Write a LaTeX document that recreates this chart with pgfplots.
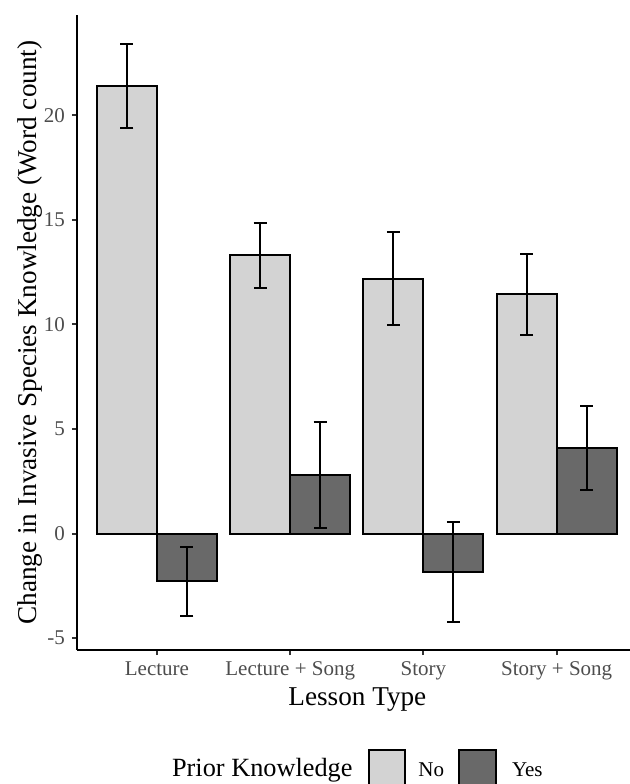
\documentclass[border=0pt]{standalone}
\usepackage{fontspec}
\setmainfont{Liberation Serif}
\usepackage{pgfplots}
\usepackage{pgfplotstable}
\pgfplotsset{compat=1.18}
\definecolor{barNo}{HTML}{D3D3D3}
\definecolor{barYes}{HTML}{696969}
\definecolor{tickgray}{HTML}{4D4D4D}
\definecolor{tickmark}{HTML}{333333}
\pgfplotstableread{
x y e
1 21.41 2.00
2 13.31 1.55
3 12.19 2.22
4 11.45 1.94
}\dataNo
\pgfplotstableread{
x y e
1 -2.27 1.65
2 2.80 2.54
3 -1.83 2.38
4 4.09 2.00
}\dataYes
\begin{document}
\begin{tikzpicture}
\useasboundingbox (0,0) rectangle (315pt,392pt);
\begin{axis}[
  at={(38.5pt,67pt)}, anchor=south west,
  scale only axis, width=276.5pt, height=317.5pt,
  xmin=0.4, xmax=4.55, ymin=-5.57, ymax=24.8,
  axis x line*=bottom, axis y line*=left,
  axis line style={line width=1pt, black, -},
  xtick={1,2,3,4},
  xticklabels={Lecture, Lecture + Song, Story, Story + Song},
  ytick={-5,0,5,10,15,20},
  yticklabels={-5,0,5,10,15,20},
  tick align=outside, major tick length=2.5pt,
  tick style={line width=1pt, color=tickmark},
  xticklabel style={font=\fontsize{10.5}{12}\selectfont, text=tickgray},
  yticklabel style={font=\fontsize{10.5}{12}\selectfont, text=tickgray},
  xlabel={Lesson Type},
  xlabel style={font=\fontsize{13.6}{15}\selectfont, at={(axis description cs:0.507,0)}, anchor=base, yshift=-27.85pt},
  ylabel={Change in Invasive Species Knowledge (Word count)},
  ylabel style={font=\fontsize{13.6}{15}\selectfont, at={(axis description cs:0,0.5)}, anchor=base, yshift=20.5pt},
  every axis plot/.append style={line width=1pt},
]
\addplot[ybar, bar width=0.45, bar shift=0, fill=barNo, draw=black, line width=1pt,
  error bars/.cd, y dir=both, y explicit,
  error bar style={line width=1pt, black},
  error mark options={rotate=90, mark size=3.25pt, line width=1pt, black}]
  table[x expr=\thisrow{x}-0.225, y=y, y error=e] {\dataNo};
\addplot[ybar, bar width=0.45, bar shift=0, fill=barYes, draw=black, line width=1pt,
  error bars/.cd, y dir=both, y explicit,
  error bar style={line width=1pt, black},
  error mark options={rotate=90, mark size=3.25pt, line width=1pt, black}]
  table[x expr=\thisrow{x}+0.225, y=y, y error=e] {\dataYes};
\end{axis}
\node[anchor=base west, inner sep=0, font=\fontsize{13.15}{15}\selectfont] at (85.85pt,3.65pt) {Prior Knowledge};
\draw[line width=1pt, fill=barNo] (184.6pt,17pt) rectangle (202.5pt,-3pt);
\node[anchor=base west, inner sep=0, font=\fontsize{10.5}{12}\selectfont] at (209pt,3.65pt) {No};
\draw[line width=1pt, fill=barYes] (229.6pt,17pt) rectangle (248pt,-3pt);
\node[anchor=base west, inner sep=0, font=\fontsize{10.5}{12}\selectfont] at (255.85pt,3.65pt) {Yes};
\end{tikzpicture}
\end{document}
